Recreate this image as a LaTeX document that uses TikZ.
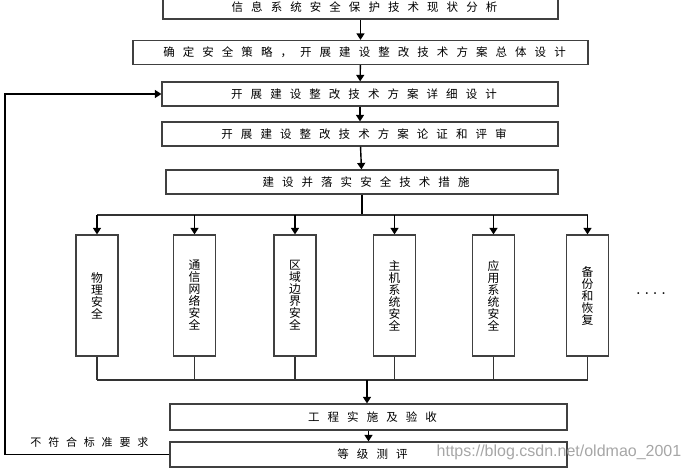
\documentclass[tikz,border=0pt]{standalone}
\usepackage{fontspec}
\newfontfamily\cjk{Noto Sans CJK SC}
\newfontfamily\wmfont{Liberation Sans}
\usetikzlibrary{arrows.meta}

\begin{document}
\begin{tikzpicture}[x=1pt,y=-1pt,
   every node/.style={inner sep=0pt},
   box/.style={draw=black!75,line width=1.2pt,minimum height=24pt,
     font=\cjk\fontsize{11.5}{13}\selectfont\addfontfeature{LetterSpace=70},
     execute at end node=\kern-0.7em},
   vbox/.style={draw=black!75,line width=1.2pt,minimum width=42pt,
     minimum height=121pt,align=center,font=\cjk\fontsize{11.8}{12}\selectfont},
   flow/.style={-{Triangle[length=6.5pt,width=8pt]},line width=1.4pt},
   bus/.style={line width=1.6pt,draw=black!80}]

\useasboundingbox (0,0) rectangle (688,470);

\node[box,minimum width=395pt] (status) at (360.5,7) {信息系统安全保护技术现状分析};
\node[box,minimum width=455pt] (policy) at (360.5,52.5) {确定安全策略，开展建设整改技术方案总体设计};
\node[box,minimum width=396pt] (detail) at (360,94) {开展建设整改技术方案详细设计};
\node[box,minimum width=396pt] (review) at (360,134) {开展建设整改技术方案论证和评审};
\node[box,minimum width=392pt] (build) at (362,182) {建设并落实安全技术措施};

\node[vbox] (v1) at (97,295.5) {物\\理\\安\\全};
\node[vbox] (v2) at (194.5,295.5) {通\\信\\网\\络\\安\\全};
\node[vbox] (v3) at (295,295.5) {区\\域\\边\\界\\安\\全};
\node[vbox] (v4) at (394.5,295.5) {主\\机\\系\\统\\安\\全};
\node[vbox] (v5) at (493.5,295.5) {应\\用\\系\\统\\安\\全};
\node[vbox] (v6) at (587.5,295.5) {备\\份\\和\\恢\\复};
\node[font=\bfseries\fontsize{13}{13}\selectfont] (more) at (651,294) {.\,\,.\,\,.\,\,.};

\node[box,minimum width=397pt,minimum height=26pt] (works) at (368.5,417) {工程实施及验收};
\node[box,minimum width=397pt,minimum height=25pt] (eval) at (368.5,454.5) {等级测评};
\node[font=\cjk\fontsize{11}{13}\selectfont\addfontfeature{LetterSpace=62}] (fail) at (86,442) {不符合标准要求\kern-0.62em};
\node[font=\wmfont\fontsize{16}{16}\selectfont,text=black!35] (mark) at (559,452) {https://blog.csdn.net/oldmao\_2001};

\coordinate (split) at (362,215);
\coordinate (join) at (367,380);

\draw[flow] (status) -- (policy);
\draw[flow] (policy) -- (detail);
\draw[flow] (detail) -- (review);
\draw[flow] (review) -- (build);

\draw[line width=1.4pt] (build) -- (split);
\draw[bus] (v1.north |- split) -- (v6.north |- split);
\foreach \i in {1,...,6}
  \draw[flow] (v\i.north |- split) -- (v\i.north);

\foreach \i in {1,...,6}
  \draw[bus] (v\i.south) -- (v\i.south |- join);
\draw[bus] (v1.south |- join) -- (v6.south |- join);
\draw[flow] (join) -- (join |- works.north);
\draw[flow] (works) -- (eval);

\draw[flow,line width=1.2pt] (eval.west) -- (5,454.5) |- (detail.west);

\end{tikzpicture}
\end{document}
